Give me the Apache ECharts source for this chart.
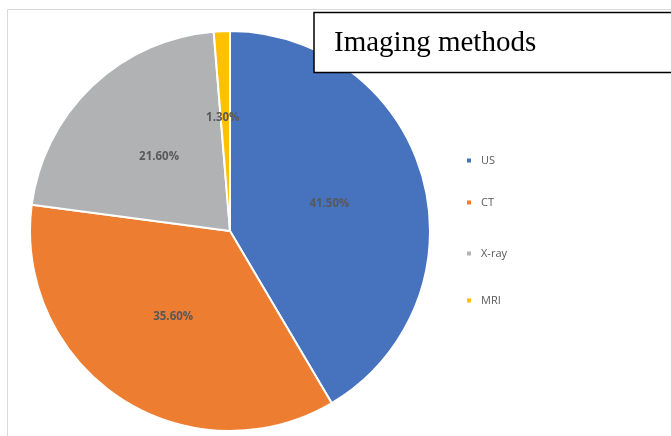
<!DOCTYPE html>
<html>
<head>
<meta charset="utf-8">
<script src="https://cdn.jsdelivr.net/npm/echarts@6/dist/echarts.min.js"></script>
<style>
  html, body { margin: 0; padding: 0; background: #fff; }
  #chart { width: 671px; height: 436px; }
</style>
</head>
<body>
<div id="chart"></div>
<script>
// imaging methods share (%)
const methods = ['US', 'CT', 'X-ray', 'MRI']
const shares = [41.5, 35.6, 21.6, 1.3]
const colors = ['#4672BE', '#ED7D31', '#B1B2B4', '#FFC000']
const legendTops = [150, 192, 243, 290]

const chart = echarts.init(document.getElementById('chart'))

const legends = methods.map((name, i) => ({
  data: [name],
  left: 460,
  top: legendTops[i],
  icon: 'rect',
  itemWidth: 6,
  itemHeight: 6,
  selectedMode: false,
  textStyle: {
    fontFamily: 'Open Sans, sans-serif',
    fontSize: 11,
    color: '#595959',
    padding: [0, 0, 0, 4],
  },
}))

chart.setOption({
  animation: false,
  color: colors,
  legend: legends,
  graphic: [
    {
      type: 'rect',
      shape: { x: 7.5, y: 9.5, width: 700, height: 500 },
      style: { fill: 'none', stroke: '#d9d9d9', lineWidth: 1 },
      z: -1,
    },
    {
      type: 'rect',
      shape: { x: 314, y: 12.5, width: 400, height: 60 },
      style: { fill: '#fff', stroke: '#000', lineWidth: 1.5 },
      z: 10,
    },
    {
      type: 'text',
      left: 334,
      top: 29,
      z: 11,
      style: {
        text: 'Imaging methods',
        font: '29px "Liberation Serif", "Times New Roman", serif',
        fill: '#000',
      },
    },
  ],
  series: [
    {
      type: 'pie',
      center: [230, 231],
      radius: 200,
      startAngle: 90,
      clockwise: true,
      itemStyle: {
        borderColor: '#fff',
        borderWidth: 2,
      },
      label: {
        show: true,
        position: 'inside',
        formatter: p => p.value.toFixed(2) + '%',
        fontFamily: 'Open Sans, sans-serif',
        fontSize: 11.5,
        fontWeight: 'bold',
        color: '#595959',
      },
      labelLine: { show: false },
      emphasis: { disabled: true },
      data: methods.map((name, i) => ({
        name: name,
        value: shares[i],
        // small slice label sits higher in the original
        label: name === 'MRI' ? { offset: [-3, -10] } : undefined,
      })),
    },
  ],
})
</script>
</body>
</html>
